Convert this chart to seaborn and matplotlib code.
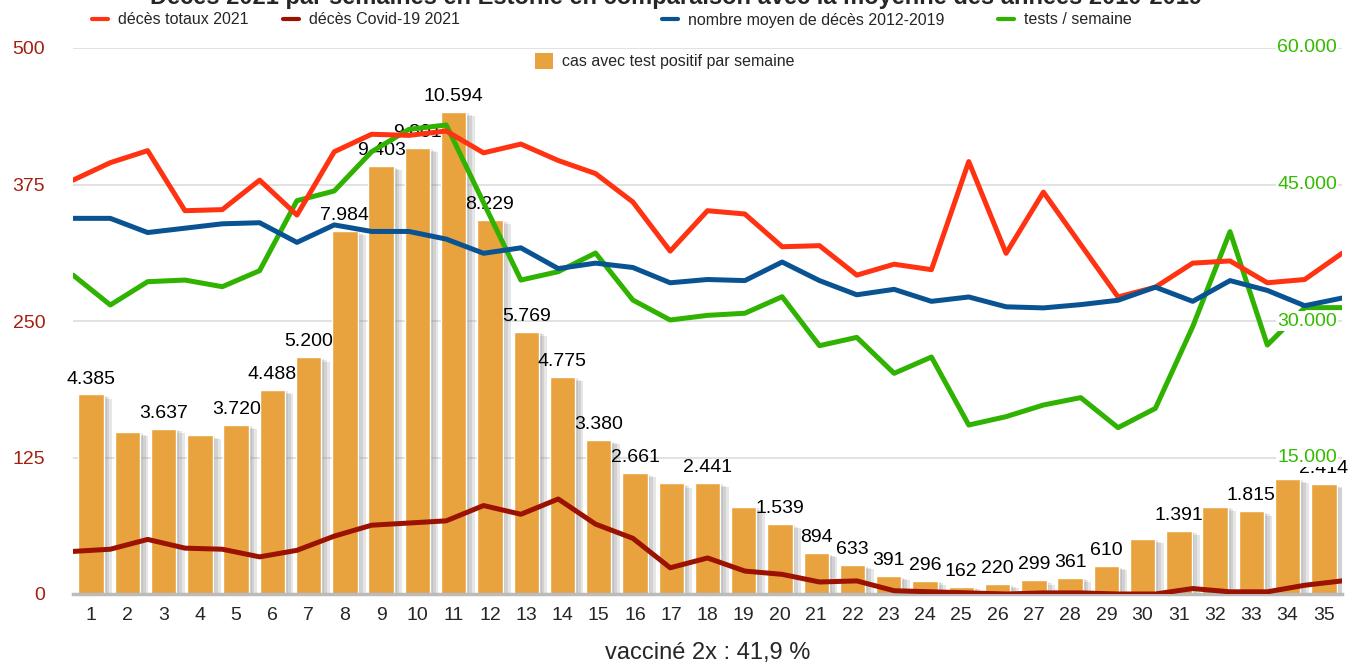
import numpy as np
import pandas as pd
import matplotlib
matplotlib.use('Agg')
import matplotlib.pyplot as plt
import matplotlib.patheffects as pe
from matplotlib.lines import Line2D
from matplotlib.patches import Patch
import seaborn as sns

# data
weeks = list(range(1, 36))
cases = [4385, 3566, 3637, 3494, 3720, 4488, 5200, 7984, 9403, 9801,
         10594, 8229, 5769, 4775, 3380, 2661, 2430, 2441, 1912, 1539,
         894, 633, 391, 296, 162, 220, 299, 361, 610, 1209,
         1391, 1919, 1815, 2528, 2414]
# labels that are visible on the original (others hidden by overlap)
label_shown = [1, 0, 1, 0, 1, 1, 1, 1, 1, 1,
               1, 1, 1, 1, 1, 1, 0, 1, 0, 1,
               1, 1, 1, 1, 1, 1, 1, 1, 1, 0,
               1, 0, 1, 0, 1]
deaths_total = [379, 395, 406, 351, 352, 379, 347, 405, 421, 420,
                424, 404, 412, 397, 385, 359, 314, 351, 348, 318,
                319, 292, 302, 297, 396, 312, 368, 320, 272, 281,
                303, 305, 285, 288, 312]
deaths_covid = [39, 41, 50, 42, 41, 34, 40, 53, 63, 65,
                67, 81, 73, 87, 64, 51, 24, 33, 21, 18,
                11, 12, 3, 2, 1, 0, 1, 1, 0, 0,
                5, 2, 2, 8, 12]
deaths_mean = [344, 344, 331, 335, 339, 340, 322, 338, 332, 332,
               325, 312, 317, 298, 303, 299, 285, 288, 287, 304,
               287, 274, 279, 268, 272, 263, 262, 265, 269, 281,
               268, 287, 278, 264, 271]
tests = [35050, 31760, 34320, 34500, 33770, 35530, 43220, 44290, 48600, 51060,
         51540, 43000, 34500, 35420, 37470, 32300, 30110, 30620, 30850, 32670,
         27290, 28200, 24250, 26040, 18570, 19490, 20770, 21580, 18280, 20400,
         29380, 39820, 27360, 31470, 31470]
left_ticks = [0, 125, 250, 375, 500]
right_ticks = [15000, 30000, 45000, 60000]
bar_grid = [3000, 6000, 9000, 12000]

c_total = '#ff3311'
c_covid = '#9b1200'
c_mean = '#0a5393'
c_tests = '#2fb300'
c_bar = '#e8a23e'
c_left = '#a3200e'
c_right = '#33bb00'

sns.set_theme(style='white')
plt.rcParams['font.family'] = ['Liberation Sans', 'DejaVu Sans']

fig = plt.figure(figsize=(13.53, 6.66), dpi=100)
rect = [73 / 1353, 72 / 666, 1269 / 1353, 546 / 666]

# bars on their own hidden scale
ax_bar = fig.add_axes(rect)
df = pd.DataFrame({'semaine': [str(w) for w in weeks], 'cas': cases})
sns.barplot(data=df, x='semaine', y='cas', color=c_bar, saturation=1,
            width=0.7, ax=ax_bar, zorder=2)
# soft shadow, several light layers
shadow = [pe.SimplePatchShadow(offset=(k, -k / 2), shadow_rgbFace='#777777', alpha=0.18)
          for k in (2, 4, 6)]
for p in ax_bar.patches:
    p.set_path_effects(shadow + [pe.Normal()])
labels = [f"{v:,}".replace(',', '.') if s else '' for v, s in zip(cases, label_shown)]
ax_bar.bar_label(ax_bar.containers[0], labels=labels, padding=5, fontsize=14, color='black')
ax_bar.set_ylim(0, 12000)
ax_bar.set_yticks(bar_grid)
ax_bar.set_yticklabels([])
ax_bar.yaxis.grid(True, color='#dddddd', lw=1.2, zorder=0)
ax_bar.set_axisbelow(True)
ax_bar.tick_params(axis='x', length=0, pad=9, labelsize=14)
ax_bar.tick_params(axis='y', length=0)
ax_bar.set_ylabel('')
ax_bar.set_xlabel('vacciné 2x : 41,9 %', fontsize=17, labelpad=13)
for s in ['top', 'right', 'left']:
    ax_bar.spines[s].set_visible(False)
ax_bar.spines['bottom'].set_color('#bbbbbb')
ax_bar.spines['bottom'].set_linewidth(2.5)

# tests on right axis
ax_t = fig.add_axes(rect)
ax_t.set_zorder(1)
ax_t.patch.set_visible(False)
sns.lineplot(x=weeks, y=tests, ax=ax_t, color=c_tests, lw=3.6)
ax_t.set_xlim(1, 35)
ax_t.set_ylim(0, 60000)
ax_t.axis('off')
for v in right_ticks:
    ax_t.text(0.996, v, f"{v:,}".replace(',', '.'), transform=ax_t.get_yaxis_transform(),
              ha='right', va='center', fontsize=14, color=c_right, zorder=10,
              bbox=dict(facecolor='white', edgecolor='none', pad=1))

# deaths on left axis
ax = fig.add_axes(rect)
ax.set_zorder(2)
ax.patch.set_visible(False)
sns.lineplot(x=weeks, y=deaths_total, ax=ax, color=c_total, lw=3.6)
sns.lineplot(x=weeks, y=deaths_covid, ax=ax, color=c_covid, lw=3.6)
sns.lineplot(x=weeks, y=deaths_mean, ax=ax, color=c_mean, lw=3.6)
ax.set_xlim(1, 35)
ax.set_ylim(0, 500)
ax.set_xticks([])
ax.set_yticks(left_ticks)
ax.tick_params(axis='y', length=0, pad=20, labelsize=14, labelcolor=c_left)
for s in ax.spines.values():
    s.set_visible(False)

# legend entries
entries = [
    (Line2D([], [], color=c_total, lw=3), 'décès totaux 2021', 92, 20),
    (Line2D([], [], color=c_covid, lw=3), 'décès Covid-19 2021', 283, 20),
    (Line2D([], [], color=c_mean, lw=3), 'nombre moyen de décès 2012-2019', 662, 20),
    (Line2D([], [], color=c_tests, lw=3), 'tests / semaine', 998, 20),
]
for h, txt, px, py in entries:
    fig.legend(handles=[h], labels=[txt], loc='center left', bbox_to_anchor=(px / 1353, 1 - py / 666),
               frameon=False, fontsize=11.5, handlelength=1.0, handletextpad=0.6,
               borderpad=0, borderaxespad=0)
fig.legend(handles=[Patch(facecolor=c_bar, edgecolor='none')], labels=['cas avec test positif par semaine'],
           loc='center left', bbox_to_anchor=(535 / 1353, 1 - 61 / 666), frameon=False, fontsize=11.5,
           handlelength=1.1, handleheight=1.2, handletextpad=0.6, borderpad=0, borderaxespad=0)

fig.text(0.5, 1 - 4 / 666, 'Décès 2021 par semaines en Estonie en comparaison avec la moyenne des années 2010-2019',
         ha='center', va='baseline', fontsize=17, weight='bold')

fig.savefig('out.png', dpi=100)
